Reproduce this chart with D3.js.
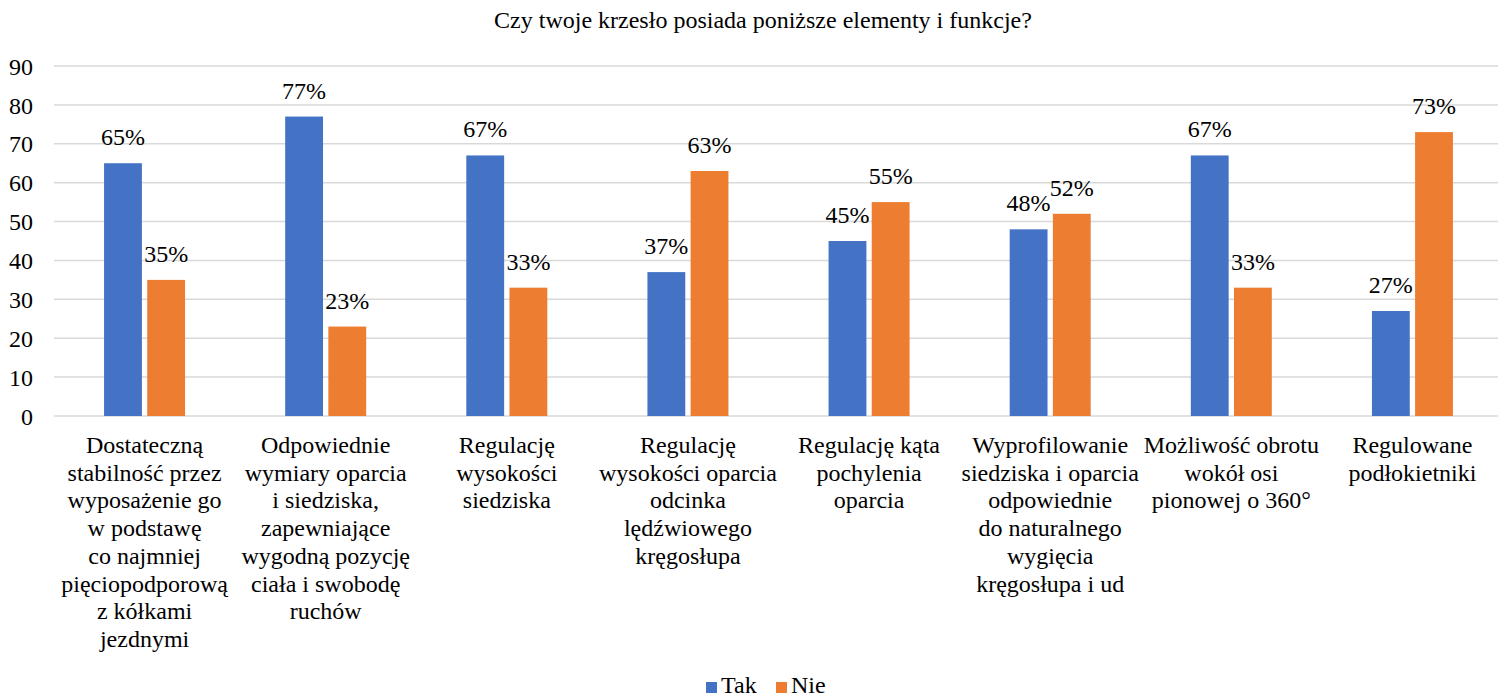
<!DOCTYPE html>
<html>
<head>
<meta charset="utf-8">
<script src="https://cdn.jsdelivr.net/npm/d3@7"></script>
<style>
  html, body { margin: 0; padding: 0; background: #fff; }
  svg, svg text, svg tspan { font-family: "Liberation Serif", "Times New Roman", serif; }
</style>
</head>
<body>
<svg id="chart" width="1498" height="699"></svg>
<script>
// Chart data
const title = "Czy twoje krzesło posiada poniższe elementy i funkcje?";
const categories = [
  ["Dostateczną", "stabilność przez", "wyposażenie go", "w podstawę", "co najmniej", "pięciopodporową", "z kółkami", "jezdnymi"],
  ["Odpowiednie", "wymiary oparcia", "i siedziska,", "zapewniające", "wygodną pozycję", "ciała i swobodę", "ruchów"],
  ["Regulację", "wysokości", "siedziska"],
  ["Regulację", "wysokości oparcia", "odcinka", "lędźwiowego", "kręgosłupa"],
  ["Regulację kąta", "pochylenia", "oparcia"],
  ["Wyprofilowanie", "siedziska i oparcia", "odpowiednie", "do naturalnego", "wygięcia", "kręgosłupa i ud"],
  ["Możliwość obrotu", "wokół osi", "pionowej o 360°"],
  ["Regulowane", "podłokietniki"]
];
const seriesNames = ["Tak", "Nie"];
const tak = [65, 77, 67, 37, 45, 48, 67, 27];
const nie = [35, 23, 33, 63, 55, 52, 33, 73];
const yTicks = [0, 10, 20, 30, 40, 50, 60, 70, 80, 90];
const colors = ["#4472C4", "#ED7D31"];

const FONT = '"Liberation Serif", "Times New Roman", serif';
const FS = "24px";
const svg = d3.select("#chart").style("font-family", FONT);
const plot = { left: 54, right: 1503, top: 66, bottom: 416 };

const x = d3.scaleBand()
  .domain(d3.range(categories.length))
  .range([plot.left, plot.right]);
const inner = d3.scaleBand()
  .domain(seriesNames)
  .range([-40.5, 40.5])
  .paddingInner(10 / 81);
const y = d3.scaleLinear().domain([0, 90]).range([plot.bottom, plot.top]);

// Title
svg.append("text")
  .attr("x", 763).attr("y", 28)
  .attr("text-anchor", "middle")
  .style("font-family", FONT)
  .style("font-size", FS)
  .attr("fill", "#000")
  .text(title);

// Gridlines
svg.append("g")
  .selectAll("line")
  .data(yTicks)
  .join("line")
  .attr("x1", plot.left).attr("x2", plot.right)
  .attr("y1", d => y(d)).attr("y2", d => y(d))
  .attr("stroke", "#d9d9d9")
  .attr("stroke-width", 1.5);

// Y axis labels
const yAxis = d3.axisLeft(y).tickValues(yTicks).tickSize(0).tickPadding(0);
const yg = svg.append("g").attr("transform", "translate(33,0)").call(yAxis);
yg.attr("font-family", null).attr("font-size", null);
yg.select(".domain").remove();
yg.selectAll("text")
  .style("font-family", FONT)
  .style("font-size", FS)
  .attr("fill", "#000")
  .attr("text-anchor", "end")
  .attr("dy", "0.34em")
  .attr("x", 0);

// Bars and value labels
const rows = categories.map((c, i) => ({ i, values: [tak[i], nie[i]] }));
const groups = svg.append("g").selectAll("g")
  .data(rows)
  .join("g")
  .attr("transform", d => `translate(${x(d.i) + x.bandwidth() / 2},0)`);

groups.selectAll("rect")
  .data(d => d.values.map((v, k) => ({ v, k })))
  .join("rect")
  .attr("x", d => inner(seriesNames[d.k]))
  .attr("width", inner.bandwidth())
  .attr("y", d => y(d.v))
  .attr("height", d => y(0) - y(d.v))
  .attr("fill", d => colors[d.k]);

groups.selectAll("text.val")
  .data(d => d.values.map((v, k) => ({ v, k })))
  .join("text")
  .attr("class", "val")
  .attr("x", d => inner(seriesNames[d.k]) + inner.bandwidth() / 2)
  .attr("y", d => y(d.v) - 18)
  .attr("text-anchor", "middle")
  .style("font-family", FONT)
  .style("font-size", FS)
  .attr("fill", "#000")
  .text(d => d.v + "%");

// Category labels
const cat = svg.append("g").selectAll("text")
  .data(categories)
  .join("text")
  .attr("x", (d, i) => x(i) + x.bandwidth() / 2)
  .attr("y", 453)
  .attr("text-anchor", "middle")
  .style("font-family", FONT)
  .style("font-size", FS)
  .attr("fill", "#000");
cat.selectAll("tspan")
  .data(d => d)
  .join("tspan")
  .attr("x", function () { return d3.select(this.parentNode).attr("x"); })
  .attr("dy", (d, j) => j === 0 ? 0 : 27.7)
  .text(d => d);

// Legend
const legend = svg.append("g").attr("transform", "translate(706,693)");
const items = [{ name: "Tak", x: 0 }, { name: "Nie", x: 70 }];
items.forEach((it, k) => {
  legend.append("rect")
    .attr("x", it.x).attr("y", -11)
    .attr("width", 11).attr("height", 11)
    .attr("fill", colors[k]);
  legend.append("text")
    .attr("x", it.x + 15).attr("y", 0)
    .style("font-family", FONT)
    .style("font-size", FS)
    .attr("fill", "#000")
    .text(it.name);
});
</script>
</body>
</html>
